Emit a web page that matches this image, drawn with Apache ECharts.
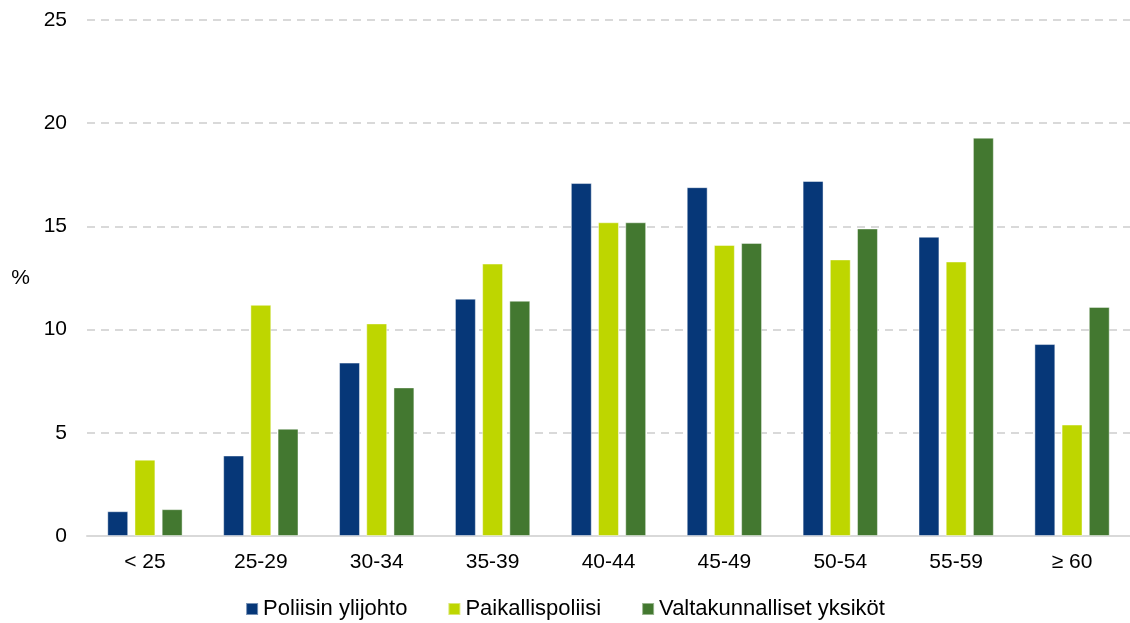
<!DOCTYPE html>
<html>
<head>
<meta charset="utf-8">
<script src="https://cdn.jsdelivr.net/npm/echarts@6/dist/echarts.min.js"></script>
<style>
html,body{margin:0;padding:0;background:#fff;}
#chart{width:1130px;height:623px;}
</style>
</head>
<body>
<div id="chart"></div>
<script>
const categories = ['< 25', '25-29', '30-34', '35-39', '40-44', '45-49', '50-54', '55-59', '≥ 60'];
const seriesNames = ['Poliisin ylijohto', 'Paikallispoliisi', 'Valtakunnalliset yksiköt'];
const poliisinYlijohto = [1.2, 3.9, 8.4, 11.5, 17.1, 16.9, 17.2, 14.5, 9.3];
const paikallispoliisi = [3.7, 11.2, 10.3, 13.2, 15.2, 14.1, 13.4, 13.3, 5.4];
const valtakunnalliset = [1.3, 5.2, 7.2, 11.4, 15.2, 14.2, 14.9, 19.3, 11.1];
const yTicks = [0, 5, 10, 15, 20, 25];
const colors = ['#063778', '#BED600', '#437830'];

const font = 'Liberation Sans, Arial, sans-serif';
const chart = echarts.init(document.getElementById('chart'));
const data = [poliisinYlijohto, paikallispoliisi, valtakunnalliset];
chart.setOption({
  animation: false,
  color: colors,
  grid: { left: 87, right: 0, top: 20, bottom: 87, containLabel: false },
  legend: {
    top: 593,
    left: 'center',
    itemWidth: 12,
    itemHeight: 12,
    itemGap: 40,
    icon: 'rect',
    textStyle: { fontFamily: font, fontSize: 22, color: '#000', padding: [0, 0, 0, 0] },
    data: seriesNames
  },
  xAxis: {
    type: 'category',
    data: categories,
    axisLine: { lineStyle: { color: '#d9d9d9', width: 2 } },
    axisTick: { show: false },
    axisLabel: { fontFamily: font, fontSize: 21, color: '#000', margin: 16 }
  },
  yAxis: {
    type: 'value',
    min: yTicks[0],
    max: yTicks[yTicks.length - 1],
    interval: 5,
    name: '%',
    nameLocation: 'middle',
    nameRotate: 0,
    nameGap: 57,
    nameTextStyle: { fontFamily: font, fontSize: 21, color: '#000' },
    axisLine: { show: false },
    axisTick: { show: false },
    axisLabel: { fontFamily: font, fontSize: 21, color: '#000', margin: 20 },
    splitLine: { lineStyle: { color: '#d9d9d9', width: 2, type: [8, 6] } }
  },
  series: seriesNames.map((n, i) => ({
    name: n,
    type: 'bar',
    data: data[i],
    barGap: '30%',
    barCategoryGap: '35%',
    itemStyle: { borderColor: 'rgba(255,255,255,0.45)', borderWidth: 1 }
  }))
});
</script>
</body>
</html>
